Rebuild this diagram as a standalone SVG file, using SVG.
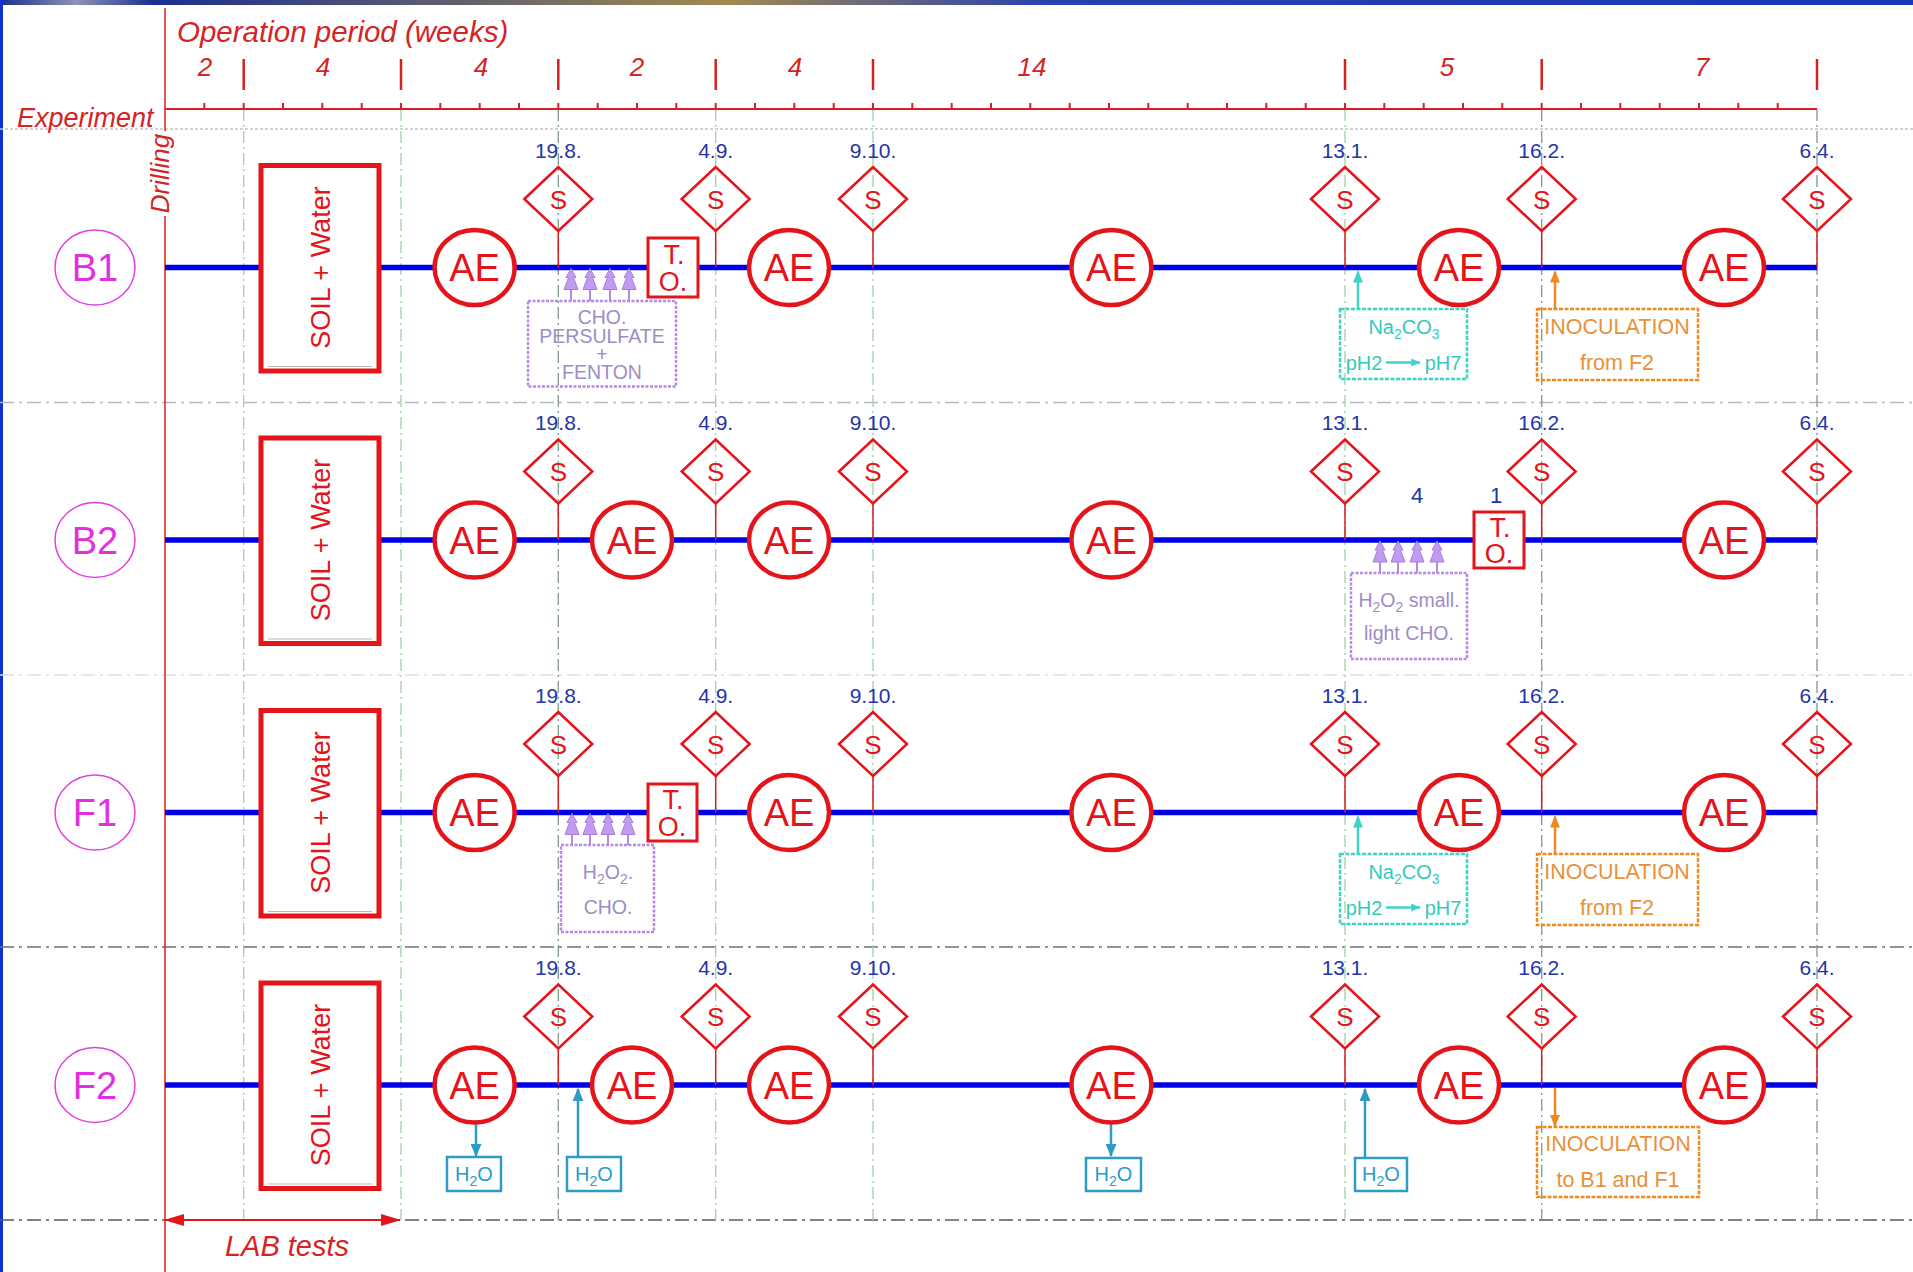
<svg xmlns="http://www.w3.org/2000/svg" xmlns:xlink="http://www.w3.org/1999/xlink" width="1913" height="1272" viewBox="0 0 1913 1272">
<style>
text{font-family:"Liberation Sans",Arial,sans-serif}
.hdr{font-style:italic;fill:#d42424}
.ae{fill:#fff;stroke:#e4141b;stroke-width:4.5}
.aet{font-size:38px;fill:#e4141b;text-anchor:middle}
.dia{fill:none;stroke:#e4141b;stroke-width:2.5}
.st{font-size:26px;fill:#e4141b;text-anchor:middle}
.date{font-size:21px;fill:#2434a8;text-anchor:middle}
.stem{stroke:#d42020;stroke-width:1.5}
.bl{stroke:#0000e6;stroke-width:5.5}
.lab{fill:none;stroke:#e040e0;stroke-width:1.5}
.labt{font-size:38px;fill:#e030e0;text-anchor:middle}
.soil{fill:#fff;stroke:#e4141b;stroke-width:5}
.soilt{font-size:27px;fill:#e4141b;text-anchor:middle}
.to{fill:#fff;stroke:#e4141b;stroke-width:3}
.tot{font-size:27px;fill:#e4141b;text-anchor:middle}
.pbox{fill:none;stroke:#b48ae6;stroke-width:2.5;stroke-dasharray:3 1.5}
.pt{font-size:19.5px;fill:#9e8cc4;text-anchor:middle}
.pstem{stroke:#b48ae6;stroke-width:2}
.cbox{fill:none;stroke:#3fd3c7;stroke-width:2.5;stroke-dasharray:4 1.5}
.ct{font-size:20px;fill:#35c9bd;text-anchor:middle}
.carr{stroke:#3fd3c7;stroke-width:2.5}
.obox{fill:none;stroke:#f08a1e;stroke-width:2.5;stroke-dasharray:4 1.5}
.ot{font-size:21.5px;fill:#e8913a;text-anchor:middle}
.oarr{stroke:#f08a1e;stroke-width:2.5}
.hbox{fill:none;stroke:#2a9cc6;stroke-width:2.5}
.ht{font-size:20px;fill:#2a9cc6;text-anchor:middle}
.harr{stroke:#2a9cc6;stroke-width:2.5}
.gv{stroke:#9fd09f;stroke-width:1.3;stroke-dasharray:12 4 2 4}
.gvd{stroke:#7f9a86;stroke-width:1.3;stroke-dasharray:12 4 2 4}
.sep{stroke-width:1.5;stroke-dasharray:14 5 3 5}
.blue-num{font-size:22px;fill:#2434a8;text-anchor:middle}
</style>
<defs>
<linearGradient id="band" x1="0" y1="0" x2="1" y2="0">
<stop offset="0" stop-color="#1b2f8f"/>
<stop offset="0.04" stop-color="#8d93b5"/>
<stop offset="0.08" stop-color="#1b2f8f"/>
<stop offset="0.38" stop-color="#a08a50"/>
<stop offset="0.55" stop-color="#2840b0"/>
<stop offset="1" stop-color="#1838b8"/>
</linearGradient>
<marker id="mc" viewBox="0 0 12 10" refX="11" refY="5" markerWidth="12" markerHeight="10" markerUnits="userSpaceOnUse" orient="auto"><path d="M0,0 L12,5 L0,10 Z" fill="#3fd3c7"/></marker>
<marker id="mcs" viewBox="0 0 12 10" refX="11" refY="5" markerWidth="10" markerHeight="8" markerUnits="userSpaceOnUse" orient="auto"><path d="M0,0 L12,5 L0,10 Z" fill="#3fd3c7"/></marker>
<marker id="mo" viewBox="0 0 12 10" refX="11" refY="5" markerWidth="12" markerHeight="10" markerUnits="userSpaceOnUse" orient="auto"><path d="M0,0 L12,5 L0,10 Z" fill="#f08a1e"/></marker>
<marker id="mh" viewBox="0 0 12 10" refX="11" refY="5" markerWidth="14" markerHeight="11" markerUnits="userSpaceOnUse" orient="auto"><path d="M0,0 L12,5 L0,10 Z" fill="#2a9cc6"/></marker>
<marker id="mr" viewBox="0 0 20 12" refX="19" refY="6" markerWidth="22" markerHeight="12" markerUnits="userSpaceOnUse" orient="auto-start-reverse"><path d="M0,0 L20,6 L0,12 Z" fill="#e4141b"/></marker>
<g id="sdia"><polygon class="dia" points="-34,0 0,-32 34,0 0,32"/><text class="st" y="9.5">S</text></g>
<g id="aen"><ellipse class="ae" rx="40" ry="37.5"/><text class="aet" y="13.5">AE</text></g>
<g id="pah"><path d="M0,0 L5,9 L2.5,9 L7,21 L-7,21 L-2.5,9 L-5,9 Z" fill="#c29af0" stroke="#a77ee0" stroke-width="1"/></g>
<g id="soilbox"><rect class="soil" x="261" y="-102" width="118" height="205.5"/><line x1="268" y1="99" x2="372" y2="99" stroke="#b8b8b8" stroke-width="1"/><text class="soilt" transform="translate(330,0) rotate(-90)">SOIL + Water</text></g>
</defs>

<rect width="1913" height="1272" fill="#fff"/>
<rect x="0" y="0" width="1913" height="5" fill="url(#band)"/>
<rect x="0" y="0" width="3" height="1272" fill="#1030d0"/>

<g id="grid">
<line x1="0" y1="129" x2="1913" y2="129" stroke="#c4c4c8" stroke-width="1.5" stroke-dasharray="3 2"/>
<line class="sep" x1="0" y1="402.5" x2="1913" y2="402.5" stroke="#b4b8c4"/>
<line class="sep" x1="0" y1="675" x2="1913" y2="675" stroke="#dcdee4"/>
<line class="sep" x1="0" y1="947" x2="1913" y2="947" stroke="#6a7080"/>
<line class="sep" x1="0" y1="1220" x2="1913" y2="1220" stroke="#555a66"/>
<line class="gv" x1="243.7" y1="109" x2="243.7" y2="1220"/>
<line class="gv" x1="401" y1="109" x2="401" y2="1220"/>
<line class="gvd" x1="558.3" y1="109" x2="558.3" y2="1220"/>
<line class="gv" x1="715.7" y1="109" x2="715.7" y2="1220"/>
<line class="gv" x1="873" y1="109" x2="873" y2="1220"/>
<line class="gv" x1="1345" y1="109" x2="1345" y2="1220"/>
<line class="gvd" x1="1541.7" y1="109" x2="1541.7" y2="1220"/>
<line class="gvd" x1="1817" y1="109" x2="1817" y2="1220"/>
</g>

<g id="header">
<line x1="165" y1="8" x2="165" y2="131" stroke="#d42020" stroke-width="1.5"/>
<line x1="165" y1="216" x2="165" y2="1272" stroke="#d42020" stroke-width="1.5"/>
<text class="hdr" x="177" y="42" font-size="29.5">Operation period (weeks)</text>
<g class="hdr" font-size="26" text-anchor="middle">
<text x="205" y="76">2</text><text x="323" y="76">4</text><text x="481" y="76">4</text><text x="637" y="76">2</text><text x="795" y="76">4</text><text x="1032" y="76">14</text><text x="1447" y="76">5</text><text x="1702" y="76">7</text>
</g>
<path d="M243.7,59V90M401,59V90M558.3,59V90M715.7,59V90M873,59V90M1345,59V90M1541.7,59V90M1817,59V90" stroke="#d42020" stroke-width="2.5"/>
<line x1="165" y1="109" x2="1817" y2="109" stroke="#d42020" stroke-width="1.8"/>
<path d="M204.3,103V109M243.7,103V109M283,103V109M322.3,103V109M361.7,103V109M401,103V109M440.3,103V109M479.7,103V109M519,103V109M558.3,103V109M597.7,103V109M637,103V109M676.3,103V109M715.7,103V109M755,103V109M794.3,103V109M833.7,103V109M873,103V109M912.3,103V109M951.7,103V109M991,103V109M1030.3,103V109M1069.7,103V109M1109,103V109M1148.3,103V109M1187.7,103V109M1227,103V109M1266.3,103V109M1305.7,103V109M1345,103V109M1384.3,103V109M1423.7,103V109M1463,103V109M1502.3,103V109M1541.7,103V109M1581,103V109M1620.3,103V109M1659.7,103V109M1699,103V109M1738.3,103V109M1777.7,103V109" stroke="#d42020" stroke-width="2"/>
<text class="hdr" x="17" y="127" font-size="27">Experiment</text>
<text class="hdr" font-size="26" text-anchor="middle" transform="translate(169,173.5) rotate(-90)">Drilling</text>
<line x1="165" y1="1220" x2="400" y2="1220" stroke="#e4141b" stroke-width="2" marker-start="url(#mr)" marker-end="url(#mr)"/>
<text class="hdr" x="287" y="1256" font-size="29" text-anchor="middle">LAB tests</text>
</g>

<g id="connectors">
<g transform="translate(0,267.5)">
<line class="bl" x1="165" y1="0" x2="1817" y2="0"/>
<path class="stem" d="M558.3,-36.5V0M715.7,-36.5V0M873,-36.5V0M1345,-36.5V0M1541.7,-36.5V0M1817,-36.5V0"/>
<path class="pstem" d="M571,21V33.5M590,21V33.5M610,21V33.5M629,21V33.5"/>
<use href="#pah" x="571" y="1"/><use href="#pah" x="590" y="1"/><use href="#pah" x="610" y="1"/><use href="#pah" x="629" y="1"/>
<line class="carr" x1="1358" y1="41.5" x2="1358" y2="4" marker-end="url(#mc)"/>
<line class="oarr" x1="1555" y1="41.5" x2="1555" y2="4" marker-end="url(#mo)"/>
</g>
<g transform="translate(0,540)">
<line class="bl" x1="165" y1="0" x2="1817" y2="0"/>
<path class="stem" d="M558.3,-36.5V0M715.7,-36.5V0M873,-36.5V0M1345,-36.5V0M1541.7,-36.5V0M1817,-36.5V0"/>
<path class="pstem" d="M1380,21V33M1398,21V33M1417,21V33M1437,21V33"/>
<use href="#pah" x="1380" y="1"/><use href="#pah" x="1398" y="1"/><use href="#pah" x="1417" y="1"/><use href="#pah" x="1437" y="1"/>
</g>
<g transform="translate(0,812.5)">
<line class="bl" x1="165" y1="0" x2="1817" y2="0"/>
<path class="stem" d="M558.3,-36.5V0M715.7,-36.5V0M873,-36.5V0M1345,-36.5V0M1541.7,-36.5V0M1817,-36.5V0"/>
<path class="pstem" d="M572,21V32.5M590,21V32.5M608,21V32.5M628,21V32.5"/>
<use href="#pah" x="572" y="1"/><use href="#pah" x="590" y="1"/><use href="#pah" x="608" y="1"/><use href="#pah" x="628" y="1"/>
<line class="carr" x1="1358" y1="41.5" x2="1358" y2="4" marker-end="url(#mc)"/>
<line class="oarr" x1="1555" y1="41.5" x2="1555" y2="4" marker-end="url(#mo)"/>
</g>
<g transform="translate(0,1085)">
<line class="bl" x1="165" y1="0" x2="1817" y2="0"/>
<path class="stem" d="M558.3,-36.5V0M715.7,-36.5V0M873,-36.5V0M1345,-36.5V0M1541.7,-36.5V0M1817,-36.5V0"/>
<line class="oarr" x1="1555" y1="3" x2="1555" y2="41" marker-end="url(#mo)"/>
<line class="harr" x1="476" y1="38" x2="476" y2="71" marker-end="url(#mh)"/>
<line class="harr" x1="578" y1="72" x2="578" y2="4" marker-end="url(#mh)"/>
<line class="harr" x1="1111" y1="38" x2="1111" y2="71" marker-end="url(#mh)"/>
<line class="harr" x1="1365" y1="72" x2="1365" y2="4" marker-end="url(#mh)"/>
</g>
</g>

<g id="row-B1" transform="translate(0,267.5)">
<g id="B1-label"><ellipse class="lab" cx="95" cy="0" rx="40" ry="37.5"/><text class="labt" x="95" y="13.5">B1</text></g>
<g id="B1-soil"><use href="#soilbox"/></g>
<g id="B1-S1"><use href="#sdia" x="558.3" y="-68.5"/><text class="date" x="558.3" y="-110">19.8.</text></g>
<g id="B1-S2"><use href="#sdia" x="715.7" y="-68.5"/><text class="date" x="715.7" y="-110">4.9.</text></g>
<g id="B1-S3"><use href="#sdia" x="873" y="-68.5"/><text class="date" x="873" y="-110">9.10.</text></g>
<g id="B1-S4"><use href="#sdia" x="1345" y="-68.5"/><text class="date" x="1345" y="-110">13.1.</text></g>
<g id="B1-S5"><use href="#sdia" x="1541.7" y="-68.5"/><text class="date" x="1541.7" y="-110">16.2.</text></g>
<g id="B1-S6"><use href="#sdia" x="1817" y="-68.5"/><text class="date" x="1817" y="-110">6.4.</text></g>
<g id="B1-AE1"><use href="#aen" x="474.6" y="0"/></g>
<g id="B1-AE2"><use href="#aen" x="789" y="0"/></g>
<g id="B1-AE3"><use href="#aen" x="1111.4" y="0"/></g>
<g id="B1-AE4"><use href="#aen" x="1459" y="0"/></g>
<g id="B1-AE5"><use href="#aen" x="1724" y="0"/></g>
<g id="B1-TO"><rect class="to" x="648" y="-29.5" width="50" height="59"/><text class="tot" x="674" y="-3.5">T.</text><text class="tot" x="673" y="23.5">O.</text></g>
<g id="B1-chem"><rect class="pbox" x="528" y="33.5" width="148" height="85.5"/><text class="pt" x="602" y="56.5">CHO.</text><text class="pt" x="602" y="75">PERSULFATE</text><text class="pt" x="602" y="93.5">+</text><text class="pt" x="602" y="111.5">FENTON</text></g>
<g id="B1-na2co3"><rect class="cbox" x="1340" y="41.5" width="127" height="70"/><text class="ct" x="1404" y="66">Na<tspan font-size="14" dy="5">2</tspan><tspan dy="-5">CO</tspan><tspan font-size="14" dy="5">3</tspan></text><text class="ct" x="1364" y="102">pH2</text><line x1="1386" y1="95" x2="1420" y2="95" class="carr" stroke-width="1.5" marker-end="url(#mcs)"/><text class="ct" x="1443" y="102">pH7</text></g>
<g id="B1-inoc"><rect class="obox" x="1537" y="41.5" width="161" height="71"/><text class="ot" x="1617" y="66">INOCULATION</text><text class="ot" x="1617" y="102">from F2</text></g>
</g>

<g id="row-B2" transform="translate(0,540)">
<g id="B2-label"><ellipse class="lab" cx="95" cy="0" rx="40" ry="37.5"/><text class="labt" x="95" y="13.5">B2</text></g>
<g id="B2-soil"><use href="#soilbox"/></g>
<g id="B2-S1"><use href="#sdia" x="558.3" y="-68.5"/><text class="date" x="558.3" y="-110">19.8.</text></g>
<g id="B2-S2"><use href="#sdia" x="715.7" y="-68.5"/><text class="date" x="715.7" y="-110">4.9.</text></g>
<g id="B2-S3"><use href="#sdia" x="873" y="-68.5"/><text class="date" x="873" y="-110">9.10.</text></g>
<g id="B2-S4"><use href="#sdia" x="1345" y="-68.5"/><text class="date" x="1345" y="-110">13.1.</text></g>
<g id="B2-S5"><use href="#sdia" x="1541.7" y="-68.5"/><text class="date" x="1541.7" y="-110">16.2.</text></g>
<g id="B2-S6"><use href="#sdia" x="1817" y="-68.5"/><text class="date" x="1817" y="-110">6.4.</text></g>
<g id="B2-AE1"><use href="#aen" x="474.6" y="0"/></g>
<g id="B2-AE2"><use href="#aen" x="632" y="0"/></g>
<g id="B2-AE3"><use href="#aen" x="789" y="0"/></g>
<g id="B2-AE4"><use href="#aen" x="1111.4" y="0"/></g>
<g id="B2-AE5"><use href="#aen" x="1724" y="0"/></g>
<g id="B2-TO"><rect class="to" x="1474" y="-28" width="50" height="56"/><text class="tot" x="1500" y="-3">T.</text><text class="tot" x="1499" y="23">O.</text></g>
<text class="blue-num" x="1417" y="-37">4</text>
<text class="blue-num" x="1496" y="-37">1</text>
<g id="B2-chem"><rect class="pbox" x="1351" y="33" width="116" height="86"/><text class="pt" x="1409" y="67">H<tspan font-size="14" dy="5">2</tspan><tspan dy="-5">O</tspan><tspan font-size="14" dy="5">2</tspan><tspan dy="-5"> small.</tspan></text><text class="pt" x="1409" y="100">light CHO.</text></g>
</g>

<g id="row-F1" transform="translate(0,812.5)">
<g id="F1-label"><ellipse class="lab" cx="95" cy="0" rx="40" ry="37.5"/><text class="labt" x="95" y="13.5">F1</text></g>
<g id="F1-soil"><use href="#soilbox"/></g>
<g id="F1-S1"><use href="#sdia" x="558.3" y="-68.5"/><text class="date" x="558.3" y="-110">19.8.</text></g>
<g id="F1-S2"><use href="#sdia" x="715.7" y="-68.5"/><text class="date" x="715.7" y="-110">4.9.</text></g>
<g id="F1-S3"><use href="#sdia" x="873" y="-68.5"/><text class="date" x="873" y="-110">9.10.</text></g>
<g id="F1-S4"><use href="#sdia" x="1345" y="-68.5"/><text class="date" x="1345" y="-110">13.1.</text></g>
<g id="F1-S5"><use href="#sdia" x="1541.7" y="-68.5"/><text class="date" x="1541.7" y="-110">16.2.</text></g>
<g id="F1-S6"><use href="#sdia" x="1817" y="-68.5"/><text class="date" x="1817" y="-110">6.4.</text></g>
<g id="F1-AE1"><use href="#aen" x="474.6" y="0"/></g>
<g id="F1-AE2"><use href="#aen" x="789" y="0"/></g>
<g id="F1-AE3"><use href="#aen" x="1111.4" y="0"/></g>
<g id="F1-AE4"><use href="#aen" x="1459" y="0"/></g>
<g id="F1-AE5"><use href="#aen" x="1724" y="0"/></g>
<g id="F1-TO"><rect class="to" x="648" y="-28.5" width="49" height="57"/><text class="tot" x="673" y="-3.5">T.</text><text class="tot" x="672" y="23">O.</text></g>
<g id="F1-chem"><rect class="pbox" x="561" y="32.5" width="93" height="87"/><text class="pt" x="608" y="66.5">H<tspan font-size="14" dy="5">2</tspan><tspan dy="-5">O</tspan><tspan font-size="14" dy="5">2</tspan><tspan dy="-5">.</tspan></text><text class="pt" x="608" y="101.5">CHO.</text></g>
<g id="F1-na2co3"><rect class="cbox" x="1340" y="41.5" width="127" height="70"/><text class="ct" x="1404" y="66">Na<tspan font-size="14" dy="5">2</tspan><tspan dy="-5">CO</tspan><tspan font-size="14" dy="5">3</tspan></text><text class="ct" x="1364" y="102">pH2</text><line x1="1386" y1="95" x2="1420" y2="95" class="carr" stroke-width="1.5" marker-end="url(#mcs)"/><text class="ct" x="1443" y="102">pH7</text></g>
<g id="F1-inoc"><rect class="obox" x="1537" y="41.5" width="161" height="71"/><text class="ot" x="1617" y="66">INOCULATION</text><text class="ot" x="1617" y="102">from F2</text></g>
</g>

<g id="row-F2" transform="translate(0,1085)">
<g id="F2-label"><ellipse class="lab" cx="95" cy="0" rx="40" ry="37.5"/><text class="labt" x="95" y="13.5">F2</text></g>
<g id="F2-soil"><use href="#soilbox"/></g>
<g id="F2-S1"><use href="#sdia" x="558.3" y="-68.5"/><text class="date" x="558.3" y="-110">19.8.</text></g>
<g id="F2-S2"><use href="#sdia" x="715.7" y="-68.5"/><text class="date" x="715.7" y="-110">4.9.</text></g>
<g id="F2-S3"><use href="#sdia" x="873" y="-68.5"/><text class="date" x="873" y="-110">9.10.</text></g>
<g id="F2-S4"><use href="#sdia" x="1345" y="-68.5"/><text class="date" x="1345" y="-110">13.1.</text></g>
<g id="F2-S5"><use href="#sdia" x="1541.7" y="-68.5"/><text class="date" x="1541.7" y="-110">16.2.</text></g>
<g id="F2-S6"><use href="#sdia" x="1817" y="-68.5"/><text class="date" x="1817" y="-110">6.4.</text></g>
<g id="F2-AE1"><use href="#aen" x="474.6" y="0"/></g>
<g id="F2-AE2"><use href="#aen" x="632" y="0"/></g>
<g id="F2-AE3"><use href="#aen" x="789" y="0"/></g>
<g id="F2-AE4"><use href="#aen" x="1111.4" y="0"/></g>
<g id="F2-AE5"><use href="#aen" x="1459" y="0"/></g>
<g id="F2-AE6"><use href="#aen" x="1724" y="0"/></g>
<g id="F2-H2O-1"><rect class="hbox" x="447" y="72" width="54" height="34"/><text class="ht" x="474" y="96">H<tspan font-size="14" dy="5">2</tspan><tspan dy="-5">O</tspan></text></g>
<g id="F2-H2O-2"><rect class="hbox" x="567" y="72" width="54" height="34"/><text class="ht" x="594" y="96">H<tspan font-size="14" dy="5">2</tspan><tspan dy="-5">O</tspan></text></g>
<g id="F2-H2O-3"><rect class="hbox" x="1086" y="73" width="55" height="33"/><text class="ht" x="1113.5" y="96">H<tspan font-size="14" dy="5">2</tspan><tspan dy="-5">O</tspan></text></g>
<g id="F2-H2O-4"><rect class="hbox" x="1355" y="73" width="52" height="33"/><text class="ht" x="1381" y="96">H<tspan font-size="14" dy="5">2</tspan><tspan dy="-5">O</tspan></text></g>
<g id="F2-inoc"><rect class="obox" x="1537" y="42" width="162" height="70"/><text class="ot" x="1618" y="65.5">INOCULATION</text><text class="ot" x="1618" y="102">to B1 and F1</text></g>
</g>
</svg>
